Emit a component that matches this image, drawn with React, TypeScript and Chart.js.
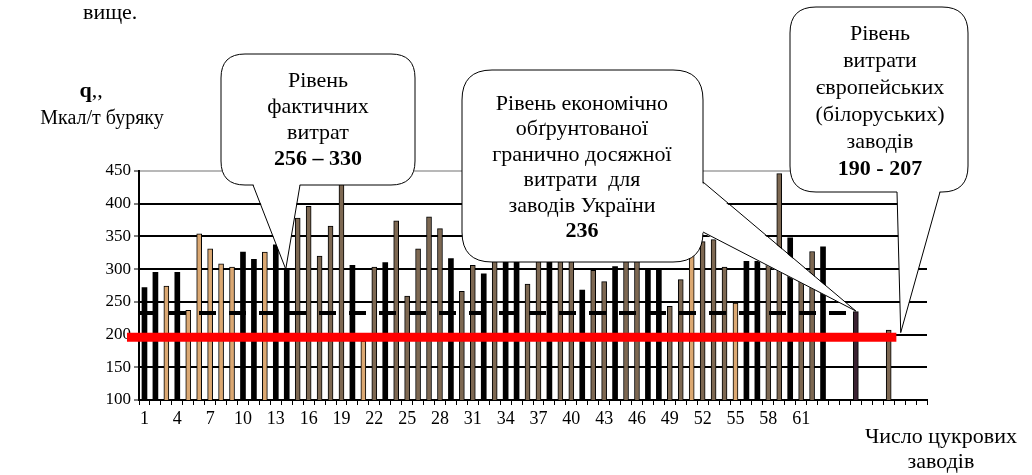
import React, { useEffect, useRef } from "react";
import { Chart, registerables } from "chart.js";

Chart.register(...registerables);

// ---------- data ----------
const categories = [
  "1", "2", "3", "4", "5", "6", "7", "8", "9", "10",
  "11", "12", "13", "14", "15", "16", "17", "18", "19", "20",
  "21", "22", "23", "24", "25", "26", "27", "28", "29", "30",
  "31", "32", "33", "34", "35", "36", "37", "38", "39", "40",
  "41", "42", "43", "44", "45", "46", "47", "48", "49", "50",
  "51", "52", "53", "54", "55", "56", "57", "58", "59", "60",
  "61", "62", "63", "64", "65", "66", "67", "68", "69", "70",
  "71", "72",
];

const shownTickLabels = [
  "1", "4", "7", "10", "13", "16", "19", "22", "25", "28", "31",
  "34", "37", "40", "43", "46", "49", "52", "55", "58", "61",
];

// q, Mcal per tonne of beet, per sugar factory
const consumption = [
  272, 295, 274, 295, 237, 354, 331, 308, 303, 326,
  315, 326, 337, 300, 378, 396, 320, 366, 445, 306,
  190, 303, 310, 374, 259, 331, 380, 362, 316, 266,
  306, 293, 330, 340, 320, 277, 335, 345, 325, 330,
  268, 298, 281, 304, 320, 330, 298, 298, 243, 284,
  335, 342, 345, 303, 248, 312, 312, 310, 446, 348,
  300, 327, 334, null, null, 235, null, null, 207, null,
  null, null,
];

// K = black, T = light tan, B = brown, D = dark
const barKinds = [
  "K", "K", "T", "K", "T", "T", "T", "T", "T", "K",
  "K", "T", "K", "K", "B", "B", "B", "B", "B", "K",
  "T", "B", "K", "B", "B", "B", "B", "B", "K", "B",
  "B", "K", "B", "K", "K", "B", "B", "K", "B", "B",
  "K", "B", "B", "K", "B", "B", "K", "K", "B", "B",
  "T", "B", "B", "B", "T", "K", "K", "B", "B", "K",
  "B", "B", "K", "K", "K", "D", "K", "K", "B", "K",
  "K", "K",
];

const yMin = 100;
const yMax = 450;
const yStep = 50;

const ukraineBenchmark = 233; // dashed line
const europeanLevel = 196; // red line
const actualTipValue = 300; // callout 1 tip (factory 14)
const ukraineTipValue = 236; // callout 2 tip (factory 66)
const europeTipValue = 203; // callout 3 tip

// ---------- styles ----------
const kindFill: Record<string, string> = {
  K: "#000000",
  T: "#dba872",
  B: "#7d6852",
  D: "#3a2232",
};

const FONT = '"Liberation Serif", "Times New Roman", serif';

function roundRectPath(ctx: CanvasRenderingContext2D, x: number, y: number, w: number, h: number, r: number) {
  ctx.beginPath();
  ctx.moveTo(x + r, y);
  ctx.lineTo(x + w - r, y);
  ctx.quadraticCurveTo(x + w, y, x + w, y + r);
  ctx.lineTo(x + w, y + h - r);
  ctx.quadraticCurveTo(x + w, y + h, x + w - r, y + h);
  ctx.lineTo(x + r, y + h);
  ctx.quadraticCurveTo(x, y + h, x, y + h - r);
  ctx.lineTo(x, y + r);
  ctx.quadraticCurveTo(x, y, x + r, y);
  ctx.closePath();
}

function drawCallout(
  ctx: CanvasRenderingContext2D,
  box: { x: number; y: number; w: number; h: number; r: number },
  b1: [number, number],
  b2: [number, number],
  tip: [number, number],
  inward: [number, number]
) {
  ctx.save();
  ctx.lineWidth = 1;
  ctx.strokeStyle = "#000";
  ctx.fillStyle = "#fff";
  roundRectPath(ctx, box.x, box.y, box.w, box.h, box.r);
  ctx.fill();
  ctx.stroke();
  // tail
  ctx.beginPath();
  ctx.moveTo(b1[0] + inward[0], b1[1] + inward[1]);
  ctx.lineTo(tip[0], tip[1]);
  ctx.lineTo(b2[0] + inward[0], b2[1] + inward[1]);
  ctx.closePath();
  ctx.fill();
  ctx.beginPath();
  ctx.moveTo(b1[0], b1[1]);
  ctx.lineTo(tip[0], tip[1]);
  ctx.lineTo(b2[0], b2[1]);
  ctx.stroke();
  ctx.restore();
}

const overlayPlugin = {
  id: "overlayLines",
  afterDatasetsDraw(chart: any) {
    const { ctx, scales } = chart;
    const x = scales.x;
    const y = scales.y;
    const catW = x.getPixelForValue(1) - x.getPixelForValue(0);

    // dashed benchmark line
    ctx.save();
    ctx.strokeStyle = "#000";
    ctx.lineWidth = 4;
    ctx.setLineDash([17, 13]);
    const yd = y.getPixelForValue(ukraineBenchmark);
    ctx.beginPath();
    ctx.moveTo(x.left, yd);
    ctx.lineTo(x.getPixelForValue(64) + catW * 0.5, yd);
    ctx.stroke();
    ctx.restore();

    // red european level
    ctx.save();
    ctx.strokeStyle = "#ff0000";
    ctx.lineWidth = 9;
    const yr = y.getPixelForValue(europeanLevel);
    ctx.beginPath();
    ctx.moveTo(x.getPixelForValue(0) - catW * 1.6, yr);
    ctx.lineTo(x.getPixelForValue(68) + catW * 0.7, yr);
    ctx.stroke();
    ctx.restore();
  },
  afterDraw(chart: any) {
    const { ctx, scales } = chart;
    const x = scales.x;
    const y = scales.y;
    const catW = x.getPixelForValue(1) - x.getPixelForValue(0);

    drawCallout(
      ctx,
      { x: 221, y: 54, w: 194, h: 131, r: 24 },
      [253, 185],
      [300, 185],
      [x.getPixelForValue(13) - 1, y.getPixelForValue(actualTipValue)],
      [0, -2]
    );
    drawCallout(
      ctx,
      { x: 462, y: 70, w: 241, h: 192, r: 30 },
      [703, 182],
      [703, 232],
      [x.getPixelForValue(65), y.getPixelForValue(ukraineTipValue)],
      [-2, 0]
    );
    drawCallout(
      ctx,
      { x: 790, y: 7, w: 178, h: 185, r: 26 },
      [897, 192],
      [940, 192],
      [x.getPixelForValue(68) + catW * 1.1, y.getPixelForValue(europeTipValue)],
      [0, -2]
    );
  },
};

export default function App() {
  const canvasRef = useRef<HTMLCanvasElement | null>(null);

  useEffect(() => {
    const canvas = canvasRef.current;
    if (!canvas) return;
    const chart = new Chart(canvas, {
      type: "bar",
      data: {
        labels: categories,
        datasets: [
          {
            data: consumption as any,
            backgroundColor: barKinds.map((k) => kindFill[k]),
            borderColor: "#000",
            borderWidth: barKinds.map((k) => (k === "K" ? 0 : 1)),
            barThickness: 5,
          },
        ],
      },
      options: {
        responsive: false,
        animation: false,
        layout: { padding: { left: 0, right: 105, top: 171, bottom: 0 } },
        plugins: {
          legend: { display: false },
          tooltip: { enabled: false },
          title: { display: false },
        },
        scales: {
          x: {
            type: "category",
            offset: true,
            grid: {
              offset: true,
              drawOnChartArea: false,
              drawTicks: true,
              tickLength: 5,
              color: "#000",
              lineWidth: 1,
            },
            border: { color: "#000", width: 2 },
            ticks: {
              autoSkip: false,
              maxRotation: 0,
              minRotation: 0,
              padding: 3,
              color: "#000",
              font: { family: FONT, size: 18 },
              callback: (_v: any, i: number) => {
                const lab = categories[i];
                return shownTickLabels.includes(lab) ? lab : "";
              },
            },
            afterFit: (s: any) => {
              s.height = 75;
            },
          },
          y: {
            min: yMin,
            max: yMax,
            grid: {
              color: (c: any) => (c.tick && c.tick.value === yMax ? "#b8b8b8" : "#000"),
              lineWidth: 2,
              tickLength: 5,
              tickColor: "#000",
              tickWidth: 1,
            },
            border: { color: "#000", width: 2 },
            ticks: {
              stepSize: yStep,
              padding: 3,
              color: "#000",
              font: { family: FONT, size: 17 },
            },
            afterFit: (s: any) => {
              s.width = 139;
            },
          },
        },
      },
      plugins: [overlayPlugin],
    });
    return () => chart.destroy();
  }, []);

  const base: React.CSSProperties = {
    position: "absolute",
    fontFamily: FONT,
    color: "#000",
    whiteSpace: "pre",
    textAlign: "center",
  };

  return (
    <div style={{ position: "absolute", left: 0, top: 0, width: 1032, height: 475, background: "#fff" }}>
      <canvas ref={canvasRef} width={1032} height={475} style={{ position: "absolute", left: 0, top: 0 }} />
      <div style={{ ...base, left: 83, top: 0, fontSize: 22, lineHeight: "24px", textAlign: "left" }}>вище.</div>
      <div style={{ ...base, left: 91, top: 78, fontSize: 22, lineHeight: "24px", transform: "translateX(-50%)" }}>
        <b>q</b>,,
      </div>
      <div style={{ ...base, left: 102, top: 105, fontSize: 20, lineHeight: "24px", transform: "translateX(-50%)" }}>
        Мкал/т буряку
      </div>
      <div style={{ ...base, left: 318, top: 67, fontSize: 22, lineHeight: "26px", transform: "translateX(-50%)" }}>
        {"Рівень\nфактичних\nвитрат\n"}
        <b>256 – 330</b>
      </div>
      <div style={{ ...base, left: 582, top: 90, fontSize: 22, lineHeight: "25.4px", transform: "translateX(-50%)" }}>
        {"Рівень економічно\nобґрунтованої\nгранично досяжної\nвитрати  для\nзаводів України\n"}
        <b>236</b>
      </div>
      <div style={{ ...base, left: 880, top: 19, fontSize: 22, lineHeight: "27px", transform: "translateX(-50%)" }}>
        {"Рівень\nвитрати\nєвропейських\n(білоруських)\nзаводів\n"}
        <b>190 - 207</b>
      </div>
      <div style={{ ...base, left: 941, top: 423, fontSize: 22, lineHeight: "25px", transform: "translateX(-50%)" }}>
        {"Число цукрових\nзаводів"}
      </div>
    </div>
  );
}
